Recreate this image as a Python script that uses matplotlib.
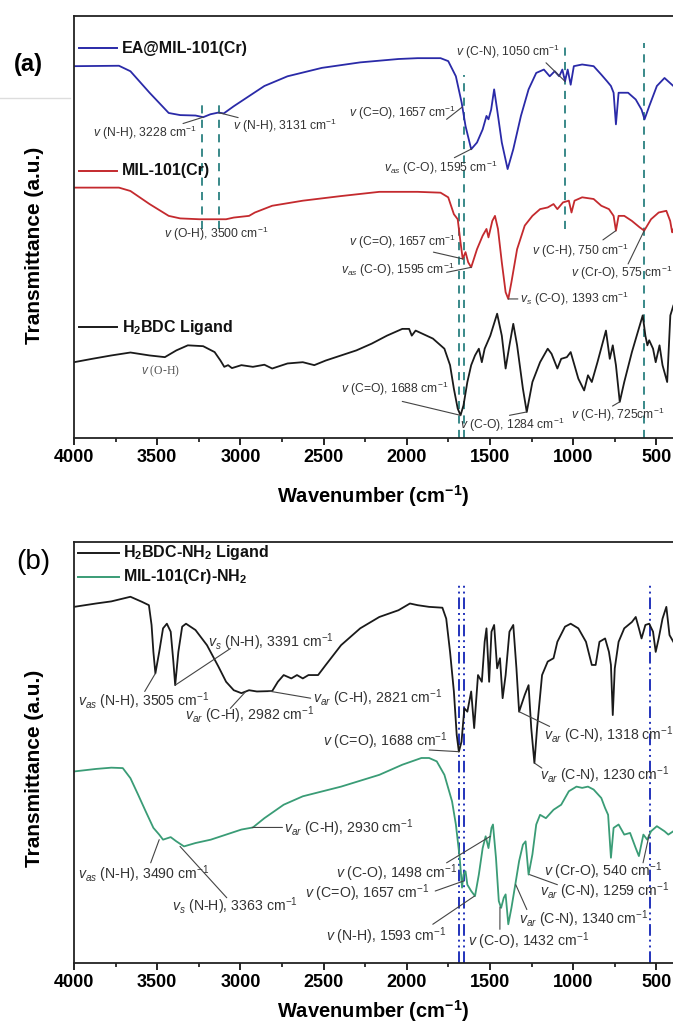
import numpy as np
import matplotlib
matplotlib.use("Agg")
import matplotlib.pyplot as plt
from matplotlib.lines import Line2D

plt.rcParams['font.family'] = ['Liberation Sans', 'DejaVu Sans']
plt.rcParams['mathtext.fontset'] = 'custom'
plt.rcParams['mathtext.it'] = 'Liberation Sans:italic'
plt.rcParams['mathtext.rm'] = 'Liberation Sans'
plt.rcParams['mathtext.default'] = 'regular'

# ---- panel (a) spectra: wavenumber (cm-1), transmittance (a.u.) ----
ea_wn = [4000, 3730, 3661, 3546, 3431, 3362, 3270, 3224, 3180, 3132, 3100, 3040, 2948,
         2856, 2717, 2510, 2280, 2050, 1935, 1797, 1751, 1705, 1670, 1647, 1613, 1578,
         1544, 1521, 1509, 1493, 1475, 1457, 1429, 1394, 1360, 1314, 1268, 1222, 1176,
         1141, 1111, 1084, 1065, 1049, 1033, 1015, 996, 946, 877, 831, 796, 773, 757,
         743, 727, 670, 624, 589, 571, 543, 497, 451, 398]
ea_t = [88.2, 88.3, 87.0, 81.9, 77.1, 76.6, 76.5, 76.1, 76.8, 77.2, 77.0, 78.7, 81.1,
        83.5, 85.8, 87.8, 89.1, 89.9, 90.1, 90.1, 89.4, 85.8, 79.5, 74.0, 68.5, 70.1,
        73.2, 76.4, 75.6, 77.9, 82.7, 77.9, 70.1, 63.8, 68.5, 76.4, 82.7, 86.6, 87.4,
        85.8, 87.0, 85.8, 87.4, 84.6, 87.4, 83.8, 88.2, 88.6, 88.2, 86.2, 84.6, 83.5,
        81.9, 74.4, 81.9, 81.9, 80.3, 77.9, 75.6, 78.7, 83.5, 85.4, 83.5]

mil_wn = [4000, 3730, 3661, 3546, 3431, 3362, 3247, 3086, 3040, 2948, 2913, 2809, 2625,
          2395, 2165, 1935, 1797, 1751, 1717, 1694, 1677, 1664, 1647, 1631, 1613, 1578,
          1544, 1521, 1509, 1486, 1470, 1452, 1429, 1406, 1390, 1371, 1337, 1291, 1245,
          1199, 1153, 1118, 1095, 1061, 1026, 1010, 992, 946, 877, 831, 785, 757, 743,
          727, 693, 647, 601, 573, 532, 486, 440, 417, 405, 398]
mil_t = [59.4, 59.4, 58.6, 55.5, 52.7, 52.1, 51.9, 51.9, 52.3, 52.7, 53.5, 55.1, 56.3,
         57.4, 58.4, 58.4, 58.2, 57.1, 53.1, 51.9, 46.4, 42.5, 44.1, 41.7, 40.5, 44.8,
         48.0, 49.6, 47.6, 51.5, 52.7, 49.6, 41.7, 34.6, 33.0, 37.0, 44.8, 50.4, 52.7,
         54.3, 54.7, 55.5, 54.3, 55.9, 56.3, 53.5, 56.3, 57.1, 56.7, 55.1, 54.3, 52.7,
         49.2, 52.7, 52.7, 51.5, 50.0, 49.2, 51.9, 53.5, 53.9, 51.5, 48.8, 49.5]

bdc_wn = [4000, 3891, 3776, 3661, 3546, 3454, 3385, 3316, 3224, 3155, 3120, 3097, 3074,
          3051, 2994, 2925, 2856, 2809, 2717, 2625, 2556, 2487, 2395, 2303, 2211, 2119,
          2027, 1986, 1970, 1947, 1843, 1774, 1740, 1717, 1694, 1677, 1659, 1636, 1613,
          1590, 1567, 1549, 1532, 1498, 1457, 1429, 1406, 1383, 1360, 1337, 1302, 1279,
          1245, 1199, 1153, 1130, 1095, 1072, 1038, 1015, 969, 934, 911, 888, 854, 803,
          780, 762, 743, 720, 693, 647, 612, 582, 566, 554, 543, 520, 504, 481, 463,
          435, 416, 398]
bdc_t = [18.0, 18.8, 19.6, 20.3, 19.6, 19.2, 20.8, 22.0, 21.8, 20.4, 18.4, 16.9, 17.3,
         16.6, 17.3, 16.9, 17.4, 16.5, 17.7, 18.0, 17.3, 18.4, 19.6, 20.8, 22.4, 24.3,
         25.9, 25.9, 24.3, 25.5, 23.6, 21.2, 17.3, 11.7, 7.0, 5.4, 7.8, 13.3, 17.3,
         19.6, 21.2, 18.0, 21.2, 24.3, 29.5, 24.3, 16.5, 22.0, 27.1, 22.0, 11.7, 6.2,
         13.3, 18.0, 21.2, 20.0, 16.5, 18.8, 19.2, 20.4, 14.1, 11.3, 14.9, 13.3, 18.0, 25.5,
         18.8, 22.0, 17.3, 8.6, 13.3, 20.4, 25.1, 29.1, 24.3, 22.0, 23.2, 21.2, 18.0, 22.0, 17.3,
         13.3, 29.1, 31.4]

# ---- panel (b) spectra ----
nh2l_wn = [4000, 3868, 3776, 3661, 3592, 3550, 3534, 3523, 3511, 3488, 3465, 3442, 3419,
           3403, 3392, 3373, 3350, 3327, 3270, 3201, 3132, 3086, 3040, 2994, 2948, 2901,
           2809, 2775, 2740, 2694, 2660, 2625, 2591, 2533, 2487, 2395, 2280, 2165, 2050,
           1981, 1935, 1866, 1786, 1763, 1740, 1717, 1700, 1687, 1671, 1654, 1636, 1613,
           1595, 1572, 1549, 1532, 1521, 1505, 1491, 1475, 1457, 1440, 1424, 1406, 1383,
           1360, 1341, 1325, 1291, 1268, 1252, 1233, 1217, 1187, 1153, 1118, 1095, 1049,
           1015, 969, 923, 888, 865, 842, 808, 785, 773, 762, 750, 727, 693, 647, 624,
           605, 589, 566, 543, 520, 504, 486, 463, 440, 421, 398]
nh2l_t = [84.6, 85.4, 85.9, 87.0, 85.8, 85.0, 80.3, 73.9, 68.8, 73.9, 79.5, 80.6, 78.7,
          71.6, 66.0, 73.9, 79.9, 80.6, 79.1, 75.5, 70.4, 66.8, 64.8, 64.1, 64.8, 64.5,
          64.6, 66.8, 68.4, 67.6, 68.4, 67.6, 68.4, 68.4, 70.8, 75.5, 79.5, 82.2, 83.8,
          85.4, 85.0, 84.6, 84.4, 81.8, 73.9, 64.5, 54.2, 50.2, 52.6, 60.5, 59.7, 64.5,
          55.8, 68.4, 66.8, 76.3, 79.5, 66.8, 78.7, 80.3, 70.0, 72.4, 62.9, 68.4, 78.7,
          80.3, 70.0, 59.7, 63.7, 66.0, 55.8, 47.5, 55.8, 68.4, 71.6, 72.4, 76.3, 79.9,
          80.6, 79.5, 76.3, 70.8, 70.8, 76.3, 77.1, 73.9, 70.8, 58.9, 70.0, 76.3, 79.5,
          81.0, 82.2, 79.5, 77.1, 80.3, 80.6, 78.7, 73.9, 77.1, 81.8, 84.6, 77.9, 76.3]

mnh2_wn = [4000, 3868, 3776, 3707, 3661, 3615, 3569, 3523, 3488, 3465, 3419, 3385, 3339,
           3270, 3178, 3086, 2994, 2925, 2856, 2740, 2625, 2395, 2165, 2027, 1912, 1866,
           1820, 1774, 1728, 1705, 1682, 1668, 1659, 1647, 1636, 1613, 1590, 1567, 1544,
           1526, 1509, 1491, 1482, 1464, 1447, 1433, 1417, 1406, 1390, 1371, 1348, 1325,
           1302, 1286, 1268, 1245, 1222, 1199, 1164, 1118, 1072, 1026, 980, 946, 911, 877,
           831, 808, 790, 773, 757, 727, 693, 658, 624, 605, 578, 555, 532, 497, 451, 428,
           398]
mnh2_t = [45.5, 46.1, 46.4, 46.3, 43.9, 40.0, 36.0, 32.1, 30.5, 29.3, 29.9, 28.9, 27.7,
          28.5, 29.3, 30.5, 31.7, 32.2, 34.4, 37.6, 39.6, 41.9, 44.7, 47.1, 48.7, 48.7,
          47.9, 44.7, 38.4, 32.9, 25.0, 17.9, 21.0, 21.8, 18.6, 17.1, 15.9, 21.0, 27.3,
          30.1, 27.3, 32.1, 32.9, 25.0, 14.7, 13.1, 15.5, 16.3, 9.2, 13.1, 18.6, 24.2,
          28.1, 28.9, 21.0, 25.8, 32.9, 35.2, 34.4, 36.4, 37.6, 40.8, 41.9, 41.6, 41.9,
          41.2, 39.2, 36.8, 35.2, 25.0, 32.1, 32.9, 30.5, 30.9, 27.3, 25.4, 30.5, 29.3,
          31.3, 32.5, 31.3, 30.5, 31.3]

# annotations: (text, text position in axes fraction, line start, curve point (wn, T))
notes_a = [
    (r"$\mathit{v}$ (N-H), 3228 cm$^{-1}$", (0.032, 0.724), (0.182, 0.746), (3224, 76.1)),
    (r"$\mathit{v}$ (N-H), 3131 cm$^{-1}$", (0.265, 0.740), (0.274, 0.760), (3132, 77.2)),
    (r"$\mathit{v}$ (C-N), 1050 cm$^{-1}$", (0.638, 0.917), (0.788, 0.890), (1049, 84.6)),
    (r"$\mathit{v}$ (C=O), 1657 cm$^{-1}$", (0.459, 0.771), (0.622, 0.756), (1667, 78.5)),
    (r"$\mathit{v_{as}}$ (C-O), 1595 cm$^{-1}$", (0.517, 0.641), (0.635, 0.665), (1610, 68.6)),
    (r"$\mathit{v}$ (O-H), 3500 cm$^{-1}$", (0.150, 0.484), None, None),
    (r"$\mathit{v}$ (C=O), 1657 cm$^{-1}$", (0.459, 0.466), (0.600, 0.441), (1664, 42.5)),
    (r"$\mathit{v_{as}}$ (C-O), 1595 cm$^{-1}$", (0.446, 0.400), (0.622, 0.393), (1613, 40.5)),
    (r"$\mathit{v_{s}}$ (C-O), 1393 cm$^{-1}$", (0.745, 0.330), (0.741, 0.330), (1390, 33.0)),
    (r"$\mathit{v}$ (C-H), 750 cm$^{-1}$", (0.765, 0.444), (0.883, 0.470), (743, 49.2)),
    (r"$\mathit{v}$ (Cr-O), 575 cm$^{-1}$", (0.829, 0.391), (0.925, 0.413), (573, 49.2)),
    (r"$\mathit{v}$ (C=O), 1688 cm$^{-1}$", (0.446, 0.116), (0.548, 0.087), (1677, 5.4)),
    (r"$\mathit{v}$ (C-O), 1284 cm$^{-1}$", (0.644, 0.032), (0.727, 0.054), (1279, 6.2)),
    (r"$\mathit{v}$ (C-H), 725cm$^{-1}$", (0.829, 0.054), (0.899, 0.076), (720, 8.6)),
]
notes_b = [
    (r"$\mathit{v_{as}}$ (N-H), 3505 cm$^{-1}$", (0.006, 0.621), (0.118, 0.645), (3511, 68.8)),
    (r"$\mathit{v_{s}}$ (N-H), 3391 cm$^{-1}$", (0.223, 0.763), (0.261, 0.747), (3392, 66.0)),
    (r"$\mathit{v_{ar}}$ (C-H), 2982 cm$^{-1}$", (0.185, 0.589), (0.261, 0.605), (2970, 64.4)),
    (r"$\mathit{v_{ar}}$ (C-H), 2821 cm$^{-1}$", (0.399, 0.629), (0.395, 0.629), (2830, 64.6)),
    (r"$\mathit{v}$ (C=O), 1688 cm$^{-1}$", (0.415, 0.526), (0.593, 0.506), (1687, 50.2)),
    (r"$\mathit{v_{ar}}$ (C-N), 1318 cm$^{-1}$", (0.784, 0.542), (0.794, 0.562), (1325, 59.7)),
    (r"$\mathit{v_{ar}}$ (C-N), 1230 cm$^{-1}$", (0.778, 0.447), (0.781, 0.463), (1233, 47.5)),
    (r"$\mathit{v_{ar}}$ (C-H), 2930 cm$^{-1}$", (0.351, 0.321), (0.348, 0.322), (2930, 32.2)),
    (r"$\mathit{v_{as}}$ (N-H), 3490 cm$^{-1}$", (0.006, 0.210), (0.128, 0.238), (3488, 29.3)),
    (r"$\mathit{v_{s}}$ (N-H), 3363 cm$^{-1}$", (0.163, 0.135), (0.255, 0.155), (3363, 27.7)),
    (r"$\mathit{v}$ (C-O), 1498 cm$^{-1}$", (0.437, 0.214), (0.622, 0.238), (1498, 30.1)),
    (r"$\mathit{v}$ (C=O), 1657 cm$^{-1}$", (0.386, 0.167), (0.603, 0.171), (1657, 19.5)),
    (r"$\mathit{v}$ (N-H), 1593 cm$^{-1}$", (0.421, 0.064), (0.599, 0.092), (1593, 15.9)),
    (r"$\mathit{v}$ (C-O), 1432 cm$^{-1}$", (0.657, 0.052), (0.711, 0.080), (1440, 13.3)),
    (r"$\mathit{v_{ar}}$ (C-N), 1340 cm$^{-1}$", (0.743, 0.103), (0.756, 0.127), (1345, 18.6)),
    (r"$\mathit{v_{ar}}$ (C-N), 1259 cm$^{-1}$", (0.778, 0.171), (0.807, 0.186), (1262, 21.0)),
    (r"$\mathit{v}$ (Cr-O), 540 cm$^{-1}$", (0.784, 0.218), (0.950, 0.238), (543, 30.5)),
]

# reference lines: (wavenumber, ymin, ymax) in axes fraction
guides_a = [(3228, 0.496, 0.79), (3131, 0.496, 0.79), (1688, 0.0, 0.574),
            (1657, 0.0, 0.862), (1050, 0.496, 0.933), (575, 0.0, 0.937)]
guides_b = [(1688, 0.0, 0.905), (1657, 0.0, 0.905), (540, 0.0, 0.905)]

blue = '#2a2aa8'
red = '#c42a2e'
green = '#3a9c76'
teal = '#2a8080'
txt = '#333333'

fig = plt.figure(figsize=(6.73, 10.26), dpi=100)
ax1 = fig.add_axes([0.110, 0.573, 0.890, 0.411])
ax2 = fig.add_axes([0.110, 0.0614, 0.890, 0.4103])


def style_axis(ax, lpad):
    ax.set_xlim(4000, 400)
    ax.set_ylim(0, 100)
    ax.set_yticks([])
    ax.set_xticks([4000, 3500, 3000, 2500, 2000, 1500, 1000, 500])
    ax.set_xticks(np.arange(3750, 400, -500), minor=True)
    ax.tick_params(axis='x', which='major', direction='out', length=5, width=1.2,
                   labelsize=13, pad=3)
    ax.tick_params(axis='x', which='minor', direction='out', length=3, width=1.1)
    for lbl in ax.get_xticklabels():
        lbl.set_fontweight('bold')
    for s in ['left', 'top', 'bottom']:
        ax.spines[s].set_linewidth(1.3)
        ax.spines[s].set_color('#222222')
    ax.spines['right'].set_visible(False)
    ax.set_xlabel(r"Wavenumber (cm$^{-1}$)", fontsize=14.5, fontweight='bold', labelpad=lpad)


def add_notes(ax, notes, size):
    for label, tpos, lstart, pt in notes:
        ax.text(tpos[0], tpos[1], label, transform=ax.transAxes, ha='left', va='center',
                fontsize=size, color=txt)
        if pt is not None:
            ax.annotate('', xy=pt, xycoords='data', xytext=lstart, textcoords='axes fraction',
                        arrowprops=dict(arrowstyle='-', color='#444444', lw=0.8,
                                        shrinkA=0, shrinkB=0))


def legend_entry(ax, y, color, label):
    ax.plot([0.008, 0.072], [y, y], color=color, lw=1.4, transform=ax.transAxes)
    ax.text(0.080, y, label, transform=ax.transAxes, ha='left', va='center',
            fontsize=11.5, fontweight='bold', color='#111111')


# ---- panel (a) ----
style_axis(ax1, 12)
for wn, y0, y1 in guides_a:
    ax1.axvline(wn, ymin=y0, ymax=y1, color=teal, lw=1.3, ls=(0, (4.5, 3.5)))
ax1.plot(ea_wn, ea_t, color=blue, lw=1.3)
ax1.plot(mil_wn, mil_t, color=red, lw=1.3)
ax1.plot(bdc_wn, bdc_t, color='#1a1a1a', lw=1.3)
legend_entry(ax1, 0.925, blue, 'EA@MIL-101(Cr)')
legend_entry(ax1, 0.634, red, 'MIL-101(Cr)')
legend_entry(ax1, 0.263, '#1a1a1a', 'H$_2$BDC Ligand')
add_notes(ax1, notes_a, 8.7)
ax1.text(0.112, 0.158, r"$\mathit{v}$ (O-H)", transform=ax1.transAxes, ha='left',
         va='center', fontsize=8.5, color='#555555', family='Liberation Serif')

# ---- panel (b) ----
style_axis(ax2, 5)
for wn, y0, y1 in guides_b:
    ax2.axvline(wn, ymin=y0, ymax=y1, color='#2233bb', lw=1.4, ls=(0, (6, 2, 1, 2, 1, 2)))
ax2.plot(nh2l_wn, nh2l_t, color='#1a1a1a', lw=1.3)
ax2.plot(mnh2_wn, mnh2_t, color=green, lw=1.3)
ax2.plot([0.006, 0.075], [0.975, 0.975], color='#1a1a1a', lw=1.4, transform=ax2.transAxes)
ax2.text(0.082, 0.975, 'H$_2$BDC-NH$_2$ Ligand', transform=ax2.transAxes, ha='left',
         va='center', fontsize=11.5, fontweight='bold', color='#111111')
ax2.plot([0.006, 0.075], [0.917, 0.917], color=green, lw=1.4, transform=ax2.transAxes)
ax2.text(0.082, 0.917, 'MIL-101(Cr)-NH$_2$', transform=ax2.transAxes, ha='left',
         va='center', fontsize=11.5, fontweight='bold', color='#111111')
add_notes(ax2, notes_b, 10.2)

# panel labels and y titles
fig.text(28 / 673, 1 - 64 / 1026, '(a)', fontsize=17, fontweight='bold', ha='center', va='center')
fig.text(33 / 673, 1 - 562 / 1026, '(b)', fontsize=20, ha='center', va='center')
fig.text(35 / 673, 1 - 245 / 1026, 'Transmittance (a.u.)', rotation=90, fontsize=15,
         fontweight='bold', ha='center', va='center')
fig.text(35 / 673, 1 - 768 / 1026, 'Transmittance (a.u.)', rotation=90, fontsize=15,
         fontweight='bold', ha='center', va='center')
fig.add_artist(Line2D([0, 70 / 673], [1 - 98 / 1026, 1 - 98 / 1026], color='#dddddd', lw=1))

fig.savefig('out.png', dpi=100)
